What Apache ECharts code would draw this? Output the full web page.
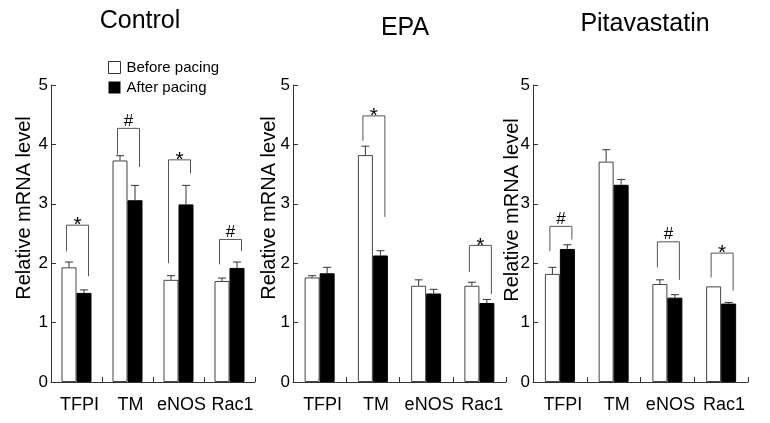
<!DOCTYPE html>
<html>
<head>
<meta charset="utf-8">
<script src="https://cdn.jsdelivr.net/npm/echarts@6/dist/echarts.min.js"></script>
<style>html,body{margin:0;padding:0;background:#fff;}#c{width:770px;height:423px;}</style>
</head>
<body>
<div id="c"></div>
<script>
// ---------- data ----------
const categories = ['TFPI', 'TM', 'eNOS', 'Rac1'];
const panelTitles = ['Control', 'EPA', 'Pitavastatin'];
const seriesNames = ['Before pacing', 'After pacing'];
const yAxisName = 'Relative mRNA level';
const yMin = 0, yMax = 5, yStep = 1;

const controlBefore = [1.93, 3.73, 1.72, 1.70];
const controlBeforeErr = [0.09, 0.08, 0.07, 0.05];
const controlAfter = [1.50, 3.06, 2.99, 1.92];
const controlAfterErr = [0.05, 0.25, 0.32, 0.10];

const epaBefore = [1.76, 3.82, 1.62, 1.62];
const epaBeforeErr = [0.03, 0.15, 0.10, 0.06];
const epaAfter = [1.83, 2.13, 1.49, 1.33];
const epaAfterErr = [0.10, 0.08, 0.07, 0.06];

const pitaBefore = [1.82, 3.71, 1.65, 1.61];
const pitaBeforeErr = [0.11, 0.20, 0.07, 0.00];
const pitaAfter = [2.24, 3.32, 1.42, 1.32];
const pitaAfterErr = [0.07, 0.09, 0.05, 0.02];

// brackets: [category index, top level, left leg bottom, right leg bottom]
const controlBrackets = [[0, 2.64, 2.20, 1.78], [1, 4.27, 3.83, 3.62], [2, 3.74, 2.00, 3.51], [3, 2.40, 1.98, 2.20]];
const controlMarks = ['*', '#', '*', '#'];
const epaBrackets = [[1, 4.48, 4.06, 2.78], [3, 2.30, 1.85, 1.48]];
const epaMarks = ['*', '*'];
const pitaBrackets = [[0, 2.62, 2.20, 2.40], [2, 2.36, 1.93, 1.72], [3, 2.17, 1.76, 1.54]];
const pitaMarks = ['#', '#', '*'];

// ---------- layout / style ----------
const FONT = 'Arial, "Liberation Sans", sans-serif';
const AX = '#333';
const grids = [
  { left: 51, width: 204, top: 85, height: 297 },
  { left: 293, width: 213, top: 85, height: 297 },
  { left: 533, width: 215, top: 85, height: 297 }
];
const titlePos = [{ x: 140, y: 9 }, { x: 405, y: 16 }, { x: 645, y: 12 }];
const namePos = [{ x: 24, y: 208 }, { x: 269, y: 208 }, { x: 512, y: 210 }];
const BW = 15;

const panels = [
  { before: controlBefore, beforeErr: controlBeforeErr, after: controlAfter, afterErr: controlAfterErr, br: controlBrackets, marks: controlMarks },
  { before: epaBefore, beforeErr: epaBeforeErr, after: epaAfter, afterErr: epaAfterErr, br: epaBrackets, marks: epaMarks },
  { before: pitaBefore, beforeErr: pitaBeforeErr, after: pitaAfter, afterErr: pitaAfterErr, br: pitaBrackets, marks: pitaMarks }
];

function errRender(params, api) {
  const c = api.value(0);
  const center = api.coord([c, 0])[0];
  const children = [];
  [[1, 2, -BW / 2], [3, 4, BW / 2]].forEach(function (d) {
    const v = api.value(d[0]), e = api.value(d[1]);
    if (!(e > 0)) return;
    const x = center + d[2];
    const y0 = api.coord([c, v])[1];
    const y1 = api.coord([c, v + e])[1];
    children.push({ type: 'line', shape: { x1: x, y1: y0, x2: x, y2: y1 }, style: { stroke: AX, lineWidth: 1 } });
    children.push({ type: 'line', shape: { x1: x - 4, y1: y1, x2: x + 4, y2: y1 }, style: { stroke: AX, lineWidth: 1 } });
  });
  return { type: 'group', children: children };
}

function makeBracketRender(marks) {
  return function (params, api) {
    const c = api.value(0);
    const center = api.coord([c, 0])[0];
    const lx = center - 10, rx = center + 12;
    const yt = api.coord([c, api.value(1)])[1];
    const yl = api.coord([c, api.value(2)])[1];
    const yr = api.coord([c, api.value(3)])[1];
    const m = marks[params.dataIndex];
    const star = m === '*';
    return {
      type: 'group',
      children: [
        { type: 'polyline', shape: { points: [[lx, yl], [lx, yt], [rx, yt], [rx, yr]] }, style: { stroke: '#555', lineWidth: 1, fill: null } },
        { type: 'text', x: (lx + rx) / 2, y: yt + (star ? 11 : 1),
          style: { text: m, font: (star ? '21px ' : '17px ') + FONT, fill: '#000', align: 'center', verticalAlign: 'bottom' } }
      ]
    };
  };
}

const option = {
  backgroundColor: '#fff',
  animation: false,
  title: panelTitles.map(function (t, i) {
    return { text: t, left: titlePos[i].x, top: titlePos[i].y, textAlign: 'center', padding: 0,
      textStyle: { fontFamily: FONT, fontSize: 25, fontWeight: 'normal', color: '#000' } };
  }),
  legend: {
    left: 103, top: 55, orient: 'vertical', itemWidth: 12, itemHeight: 12, itemGap: 5,
    selectedMode: false, icon: 'rect',
    textStyle: { fontFamily: FONT, fontSize: 15, color: '#000', padding: [0, 0, 0, 1] },
    data: [
      { name: seriesNames[0], itemStyle: { color: '#fff', borderColor: '#333', borderWidth: 1 } },
      { name: seriesNames[1], itemStyle: { color: '#000', borderWidth: 0 } }
    ]
  },
  graphic: namePos.map(function (p) {
    return { type: 'text', x: p.x, y: p.y, rotation: Math.PI / 2,
      style: { text: yAxisName, font: '20px ' + FONT, fill: '#000', align: 'center', verticalAlign: 'middle' } };
  }),
  grid: grids,
  xAxis: grids.map(function (g, i) {
    return { type: 'category', gridIndex: i, data: categories,
      axisLine: { lineStyle: { color: AX, width: 1 } },
      axisTick: { show: true, inside: true, length: 5, lineStyle: { color: AX } },
      axisLabel: { interval: 0, fontFamily: FONT, fontSize: 18, color: '#000', margin: 14, padding: [0, 0, 0, 6] },
      splitLine: { show: false } };
  }),
  yAxis: grids.map(function (g, i) {
    return { type: 'value', gridIndex: i, min: yMin, max: yMax, interval: yStep,
      axisLine: { show: true, lineStyle: { color: AX, width: 1 } },
      axisTick: { show: true, inside: true, length: 5, lineStyle: { color: AX } },
      axisLabel: { fontFamily: FONT, fontSize: 17, color: '#000', margin: 3 },
      splitLine: { show: false } };
  }),
  series: []
};

panels.forEach(function (p, i) {
  option.series.push({ name: seriesNames[0], type: 'bar', xAxisIndex: i, yAxisIndex: i, data: p.before,
    barWidth: BW, barGap: '0%', itemStyle: { color: '#fff', borderColor: '#444', borderWidth: 1 } });
  option.series.push({ name: seriesNames[1], type: 'bar', xAxisIndex: i, yAxisIndex: i, data: p.after,
    barWidth: BW, barGap: '0%', itemStyle: { color: '#000', borderColor: '#000', borderWidth: 1 } });
  option.series.push({ type: 'custom', xAxisIndex: i, yAxisIndex: i, z: 5,
    data: categories.map(function (c, k) { return [k, p.before[k], p.beforeErr[k], p.after[k], p.afterErr[k]]; }),
    renderItem: errRender });
  option.series.push({ type: 'custom', xAxisIndex: i, yAxisIndex: i, z: 5,
    data: p.br, renderItem: makeBracketRender(p.marks) });
});

const chart = echarts.init(document.getElementById('c'), null, { renderer: 'canvas' });
chart.setOption(option);
</script>
</body>
</html>
